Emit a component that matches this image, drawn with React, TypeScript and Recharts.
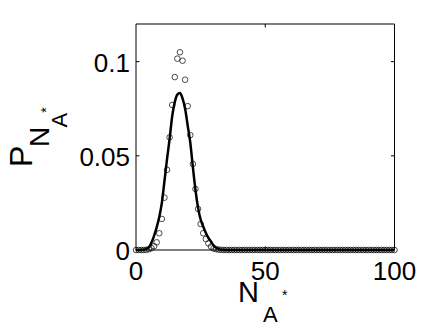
import React from 'react';
import { ComposedChart, Line, Scatter, XAxis, YAxis, ReferenceArea } from 'recharts';

const nValues = [
  0, 1, 2, 3, 4, 5, 6, 7, 8, 9,
  10, 11, 12, 13, 14, 15, 16, 17, 18, 19,
  20, 21, 22, 23, 24, 25, 26, 27, 28, 29,
  30, 31, 32, 33, 34, 35, 36, 37, 38, 39,
  40, 41, 42, 43, 44, 45, 46, 47, 48, 49,
  50, 51, 52, 53, 54, 55, 56, 57, 58, 59,
  60, 61, 62, 63, 64, 65, 66, 67, 68, 69,
  70, 71, 72, 73, 74, 75, 76, 77, 78, 79,
  80, 81, 82, 83, 84, 85, 86, 87, 88, 89,
  90, 91, 92, 93, 94, 95, 96, 97, 98, 99,
  100,
];

const observed = [
  0, 0, 0, 0, 0.0001, 0.0004, 0.001, 0.002, 0.0041, 0.0089,
  0.0165, 0.0278, 0.0426, 0.0598, 0.077, 0.0918, 0.1016, 0.105, 0.1005, 0.0904,
  0.0764, 0.061, 0.0457, 0.0324, 0.0218, 0.0138, 0.0089, 0.0058, 0.0035, 0.0018,
  0.0008, 0.0004, 0.0002, 0.0001, 0, 0, 0, 0, 0, 0,
  0, 0, 0, 0, 0, 0, 0, 0, 0, 0,
  0, 0, 0, 0, 0, 0, 0, 0, 0, 0,
  0, 0, 0, 0, 0, 0, 0, 0, 0, 0,
  0, 0, 0, 0, 0, 0, 0, 0, 0, 0,
  0, 0, 0, 0, 0, 0, 0, 0, 0, 0,
  0, 0, 0, 0, 0, 0, 0, 0, 0, 0,
  0,
];

const fitted = [
  0, 0, 0.0001, 0.0002, 0.0006, 0.0015, 0.004, 0.0075, 0.012, 0.0175,
  0.025, 0.0365, 0.0482, 0.059, 0.071, 0.0785, 0.0825, 0.0833, 0.0805, 0.075,
  0.066, 0.057, 0.044, 0.032, 0.0225, 0.0162, 0.0125, 0.0092, 0.0065, 0.0045,
  0.0025, 0.0012, 0.0005, 0.0002, 0.0001, 0, 0, 0, 0, 0,
  0, 0, 0, 0, 0, 0, 0, 0, 0, 0,
  0, 0, 0, 0, 0, 0, 0, 0, 0, 0,
  0, 0, 0, 0, 0, 0, 0, 0, 0, 0,
  0, 0, 0, 0, 0, 0, 0, 0, 0, 0,
  0, 0, 0, 0, 0, 0, 0, 0, 0, 0,
  0, 0, 0, 0, 0, 0, 0, 0, 0, 0,
  0,
];

const xTicks = [0, 50, 100];
const xTickLabels = ['0', '50', '100'];
const yTicks = [0, 0.05, 0.1];
const yTickLabels = ['0', '0.05', '0.1'];

const data = nValues.map((n, i) => ({ n, obs: observed[i], fit: fitted[i] }));

const FONT = '"Liberation Sans", Arial, Helvetica, sans-serif';
const W = 436;
const H = 327;
const PLOT_LEFT = 136;
const PLOT_RIGHT = 394.5;
const PLOT_TOP = 24;
const PLOT_BOTTOM = 250;
const TICK_LEN = 3.5;
const TICK_FS = 26;

const YTick = (props: any) => {
  const { y, payload } = props;
  const idx = yTicks.indexOf(payload.value);
  const label = yTickLabels[idx];
  const inner = payload.value !== 0;
  return (
    <g>
      {inner && (
        <>
          <line x1={PLOT_LEFT} x2={PLOT_LEFT + TICK_LEN} y1={y} y2={y} stroke="#000" strokeWidth={1} />
          <line x1={PLOT_RIGHT - TICK_LEN} x2={PLOT_RIGHT} y1={y} y2={y} stroke="#000" strokeWidth={1} />
        </>
      )}
      <text x={130} y={y} dy={10} textAnchor="end" fontSize={TICK_FS} fontFamily={FONT} fill="#000">
        {label}
      </text>
    </g>
  );
};

const XTick = (props: any) => {
  const { x, payload } = props;
  const idx = xTicks.indexOf(payload.value);
  const label = xTickLabels[idx];
  const inner = payload.value !== 0 && payload.value !== 100;
  return (
    <g>
      {inner && (
        <>
          <line x1={x} x2={x} y1={PLOT_BOTTOM} y2={PLOT_BOTTOM - TICK_LEN} stroke="#000" strokeWidth={1} />
          <line x1={x} x2={x} y1={PLOT_TOP} y2={PLOT_TOP + TICK_LEN} stroke="#000" strokeWidth={1} />
        </>
      )}
      <text x={x} y={280} textAnchor="middle" fontSize={TICK_FS} fontFamily={FONT} fill="#000">
        {label}
      </text>
    </g>
  );
};

const Circle = (props: any) => {
  const { cx, cy } = props;
  if (cx == null || cy == null) return null;
  return <circle cx={cx} cy={cy} r={2.8} fill="none" stroke="#000" strokeWidth={0.7} />;
};

export default function App() {
  return (
    <div style={{ position: 'absolute', left: 0, top: 0, width: W, height: H, background: '#fff' }}>
      <ComposedChart
        width={W}
        height={H}
        data={data}
        margin={{ top: PLOT_TOP, right: W - PLOT_RIGHT, bottom: 0, left: 0 }}
      >
        <XAxis
          dataKey="n"
          type="number"
          domain={[0, 100]}
          ticks={xTicks}
          interval={0}
          height={H - PLOT_BOTTOM}
          axisLine={false}
          tickLine={false}
          tick={<XTick />}
        />
        <YAxis
          type="number"
          domain={[0, 0.12]}
          ticks={yTicks}
          interval={0}
          width={PLOT_LEFT}
          axisLine={false}
          tickLine={false}
          tick={<YTick />}
        />
        <ReferenceArea x1={0} x2={100} y1={0} y2={0.12} fill="none" fillOpacity={0} stroke="#000" strokeWidth={1} />
        <Scatter dataKey="obs" shape={<Circle />} isAnimationActive={false} />
        <Line
          dataKey="fit"
          type="monotone"
          stroke="#000"
          strokeWidth={2.5}
          dot={false}
          activeDot={false}
          isAnimationActive={false}
        />
      </ComposedChart>
      <svg
        width={W}
        height={H}
        style={{ position: 'absolute', left: 0, top: 0, pointerEvents: 'none' }}
      >
        <g fontFamily={FONT} fill="#000">
          <text transform="translate(32,167) rotate(-90)" fontSize={32}>P</text>
          <text transform="translate(49,147) rotate(-90)" fontSize={28}>N</text>
          <text transform="translate(51,112.7) rotate(-90)" fontSize={14}>*</text>
          <text transform="translate(67,127.5) rotate(-90)" fontSize={22}>A</text>
          <text x={238} y={302} fontSize={29}>N</text>
          <text x={263} y={322} fontSize={22}>A</text>
          <text x={282} y={300} fontSize={14}>*</text>
        </g>
      </svg>
    </div>
  );
}
